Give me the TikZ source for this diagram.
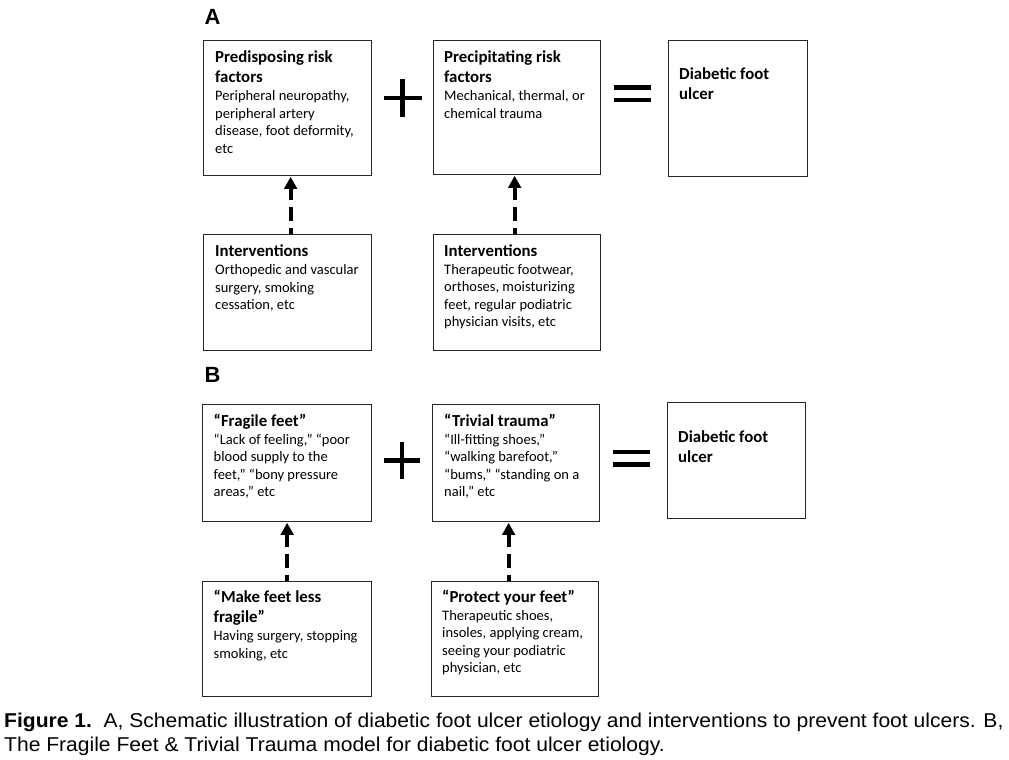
\documentclass[tikz,border=0pt]{standalone}
\usepackage{fontspec}
\setmainfont{Carlito}
\newfontfamily\capfont[FakeStretch=1.053]{Liberation Sans}
\newfontfamily\labfont{Liberation Sans}
\usetikzlibrary{arrows.meta}
\newcommand\ttlfont{\fontsize{16.8}{20}\selectfont\bfseries}
\newcommand\bodyfont{\fontsize{14.5}{17.5}\selectfont}
\tikzset{
  boxst/.style={draw=black!85, line width=1.3pt, inner sep=0pt, anchor=north west, fill=white},
  ttl/.style={anchor=north west, inner sep=0pt, align=left, font=\ttlfont},
  bdy/.style={anchor=north west, inner sep=0pt, align=left, font=\bodyfont},
  lab/.style={inner sep=0pt, font=\labfont\fontsize{22}{26}\selectfont\bfseries},
  sym/.style={line width=4.6pt, black},
  dasharrow/.style={line width=3.8pt, dash pattern=on 14pt off 7pt, dash phase=8pt,
    -{Triangle[width=12.5pt,length=12pt]}, shorten <=0pt, shorten >=0.5pt},
  captext/.style={anchor=north west, inner sep=0pt, align=left, font=\capfont\fontsize{20}{24.4}\selectfont}
}
\begin{document}
\begin{tikzpicture}[x=1pt,y=-1pt]
\useasboundingbox (0,0) rectangle (1009,760);
\fill[white] (0,0) rectangle (1009,760);

% ---------- Panel A ----------
\node[lab] (labA) at (212.5,17) {A};

\node[boxst, minimum width=168pt, minimum height=135pt] (pA) at (203,40) {};
\node[ttl] (pAt) at ([shift={(12,8.5)}]pA.north west) {\strut Predisposing risk\\factors};
\node[bdy] (pAb) at ([shift={(12,48.5)}]pA.north west) {\strut Peripheral neuropathy,\\peripheral artery\\disease, foot deformity,\\etc};

\node[boxst, minimum width=167pt, minimum height=134pt] (qA) at (433,40) {};
\node[ttl] (qAt) at ([shift={(11,8.5)}]qA.north west) {\strut Precipitating risk\\factors};
\node[bdy] (qAb) at ([shift={(11,48.5)}]qA.north west) {\strut Mechanical, thermal, or\\chemical trauma};

\node[boxst, minimum width=139pt, minimum height=136pt] (dA) at (668,40) {};
\node[ttl] (dAt) at ([shift={(11,25)}]dA.north west) {\strut Diabetic foot\\ulcer};

\node[boxst, minimum width=168pt, minimum height=116pt] (iA1) at (203,234) {};
\node[ttl] (iA1t) at ([shift={(12,8.3)}]iA1.north west) {\strut Interventions};
\node[bdy] (iA1b) at ([shift={(12,28.3)}]iA1.north west) {\strut Orthopedic and vascular\\surgery, smoking\\cessation, etc};

\node[boxst, minimum width=167pt, minimum height=116pt] (iA2) at (433,234) {};
\node[ttl] (iA2t) at ([shift={(11,8)}]iA2.north west) {\strut Interventions};
\node[bdy] (iA2b) at ([shift={(11,28)}]iA2.north west) {\strut Therapeutic footwear,\\orthoses, moisturizing\\feet, regular podiatric\\physician visits, etc};

% plus and equals A
\draw[sym] (383.5,98) -- (421.5,98);
\draw[sym] (402.5,79) -- (402.5,117);
\draw[sym] (614,87.5) -- (651,87.5);
\draw[sym] (614,100) -- (651,100);

\draw[dasharrow] ([xshift=3pt]iA1.north) -- ([xshift=3pt]iA1.north |- pA.south);
\draw[dasharrow] ([xshift=-2.5pt]iA2.north) -- ([xshift=-2.5pt]iA2.north |- qA.south);

% ---------- Panel B ----------
\node[lab] (labB) at (212.5,374.5) {B};

\node[boxst, minimum width=169pt, minimum height=117pt] (pB) at (202,404) {};
\node[ttl] (pBt) at ([shift={(11.5,8)}]pB.north west) {\strut “Fragile feet”};
\node[bdy] (pBb) at ([shift={(11.5,28)}]pB.north west) {\strut “Lack of feeling,”\ “poor\\blood supply to the\\feet,” “bony pressure\\areas,” etc};

\node[boxst, minimum width=167pt, minimum height=117pt] (qB) at (432,404) {};
\node[ttl] (qBt) at ([shift={(12,8)}]qB.north west) {\strut “Trivial trauma”};
\node[bdy] (qBb) at ([shift={(12,28)}]qB.north west) {\strut “Ill-fitting shoes,”\\“walking barefoot,”\\“bums,” “standing on a\\nail,” etc};

\node[boxst, minimum width=138pt, minimum height=116pt] (dB) at (667,402) {};
\node[ttl] (dBt) at ([shift={(11,26)}]dB.north west) {\strut Diabetic foot\\ulcer};

\node[boxst, minimum width=169pt, minimum height=115pt] (iB1) at (202,581) {};
\node[ttl] (iB1t) at ([shift={(11.5,7.5)}]iB1.north west) {\strut “Make feet less\\fragile”};
\node[bdy] (iB1b) at ([shift={(11.5,47.5)}]iB1.north west) {\strut Having surgery, stopping\\smoking, etc};

\node[boxst, minimum width=167pt, minimum height=115pt] (iB2) at (431,581) {};
\node[ttl] (iB2t) at ([shift={(11,7.5)}]iB2.north west) {\strut “Protect your feet”};
\node[bdy] (iB2b) at ([shift={(11,27)}]iB2.north west) {\strut Therapeutic shoes,\\insoles, applying cream,\\seeing your podiatric\\physician, etc};

% plus and equals B
\draw[sym] (384,460.5) -- (420,460.5);
\draw[sym] (402,442) -- (402,479);
\draw[sym] (613,452) -- (650,452);
\draw[sym] (613,464.5) -- (650,464.5);

\draw[dasharrow] ([xshift=0pt]iB1.north) -- ([xshift=0pt]iB1.north |- pB.south);
\draw[dasharrow] ([xshift=-6.5pt]iB2.north) -- ([xshift=-6.5pt]iB2.north |- qB.south);

% ---------- Caption ----------
\node[captext] (caption) at (4,710) {\strut\textbf{Figure 1.}\ \ A, Schematic illustration of diabetic foot ulcer etiology and interventions to prevent foot ulcers. B,\\The Fragile Feet \& Trivial Trauma model for diabetic foot ulcer etiology.};
\end{tikzpicture}
\end{document}
